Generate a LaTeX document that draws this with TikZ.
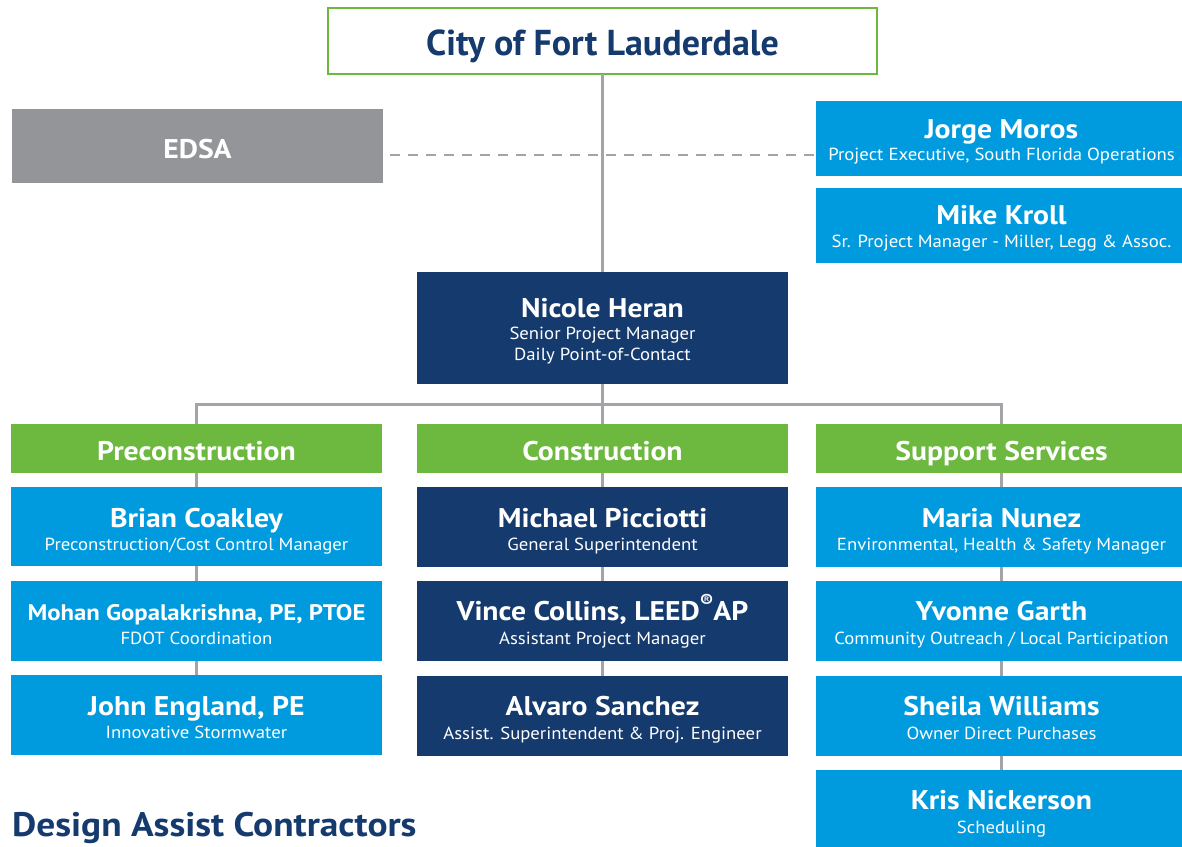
\documentclass[tikz,border=0pt]{standalone}
\usepackage{fontspec}
\setmainfont{PT Sans}
\newfontfamily\namefont{PT Sans Bold}[FakeStretch=1.1]
\newfontfamily\subfont{PT Sans}[FakeStretch=1.07]
\newfontfamily\titlefont{PT Sans Bold}
\usetikzlibrary{calc}
\definecolor{navy}{HTML}{143A6E}
\definecolor{cblue}{HTML}{009BDE}
\definecolor{cgreen}{HTML}{6DB83F}
\definecolor{cgray}{HTML}{939598}
\definecolor{lgray}{HTML}{A2A4A7}
\tikzset{
  box/.style={inner sep=0pt, outer sep=0pt, draw=none, minimum width=371pt},
  pname/.style={anchor=base, text=white, font=\namefont\fontsize{27}{30}\selectfont, inner sep=0pt},
  psub/.style={anchor=base, text=white, font=\subfont\fontsize{17.5}{20}\selectfont, inner sep=0pt},
  conn/.style={draw=lgray, line width=3pt},
  dconn/.style={draw=lgray, line width=2.5pt, dash pattern=on 10pt off 8pt},
}
\begin{document}
\begin{tikzpicture}[x=1pt,y=-1pt]
\path[use as bounding box] (0,0) rectangle (1182,846);
\clip (0,0) rectangle (1182,846);
% top
\node[box, draw=cgreen, line width=2.5pt, fill=white, minimum width=549pt, minimum height=66pt] (city) at (602.5,41) {};
\node[anchor=base, text=navy, font=\titlefont\fontsize{36}{40}\selectfont, inner sep=0pt] (citytxt) at (602.5,55) {City of Fort Lauderdale};
\node[box, fill=cgray, minimum height=74pt] (edsa) at (197.5,146) {};
\node[pname] (edsatxt) at (197.5,158) {EDSA};
\node[box, fill=cblue, minimum height=75pt] (jorge) at (1001.5,138.5) {};
\node[pname] at (1001.5,138) {Jorge Moros};
\node[psub] at (1001.5,160) {Project Executive, South Florida Operations};
\node[box, fill=cblue, minimum height=75pt] (mike) at (1001.5,225.5) {};
\node[pname] at (1001.5,224) {Mike Kroll};
\node[psub] at (1001.5,247) {Sr. Project Manager - Miller, Legg \& Assoc.};
\node[box, fill=navy, minimum height=112pt] (nicole) at (602.5,328) {};
\node[pname] at (602.5,317) {Nicole Heran};
\node[psub] at (602.5,339) {Senior Project Manager};
\node[psub] at (602.5,360) {Daily Point-of-Contact};
% headers
\node[box, fill=cgreen, minimum height=49pt] (hpre) at (196.5,448.5) {};
\node[pname] at (196.5,460) {Preconstruction};
\node[box, fill=cgreen, minimum height=49pt] (hcon) at (602.5,448.5) {};
\node[pname] at (602.5,460) {Construction};
\node[box, fill=cgreen, minimum height=49pt] (hsup) at (1001.5,448.5) {};
\node[pname] at (1001.5,460) {Support Services};
% left column
\node[box, fill=cblue, minimum height=79pt] (brian) at (196.5,526.5) {};
\node[pname] at (196.5,527) {Brian Coakley};
\node[psub] at (196.5,550) {Preconstruction/Cost Control Manager};
\node[box, fill=cblue, minimum height=80pt] (mohan) at (196.5,621) {};
\node[pname, font=\namefont\fontsize{22.5}{26}\selectfont] at (196.5,620) {Mohan Gopalakrishna, PE, PTOE};
\node[psub] at (196.5,644) {FDOT Coordination};
\node[box, fill=cblue, minimum height=80pt] (john) at (196.5,715) {};
\node[pname] at (196.5,715) {John England, PE};
\node[psub] at (196.5,738) {Innovative Stormwater};
% middle column
\node[box, fill=navy, minimum height=80pt] (michael) at (602.5,527) {};
\node[pname] at (602.5,527) {Michael Picciotti};
\node[psub] at (602.5,550) {General Superintendent};
\node[box, fill=navy, minimum height=80pt] (vince) at (602.5,621) {};
\node[pname] at (602.5,620) {Vince Collins, LEED\raisebox{0.45em}{\fontsize{18}{18}\selectfont ®}AP};
\node[psub] at (602.5,644) {Assistant Project Manager};
\node[box, fill=navy, minimum height=80pt] (alvaro) at (602.5,716) {};
\node[pname] at (602.5,715) {Alvaro Sanchez};
\node[psub] at (602.5,739) {Assist. Superintendent \& Proj. Engineer};
% right column
\node[box, fill=cblue, minimum height=80pt] (maria) at (1001.5,527) {};
\node[pname] at (1001.5,527) {Maria Nunez};
\node[psub] at (1001.5,550) {Environmental, Health \& Safety Manager};
\node[box, fill=cblue, minimum height=80pt] (yvonne) at (1001.5,621) {};
\node[pname] at (1001.5,620) {Yvonne Garth};
\node[psub] at (1001.5,644) {Community Outreach / Local Participation};
\node[box, fill=cblue, minimum height=80pt] (sheila) at (1001.5,716) {};
\node[pname] at (1001.5,715) {Sheila Williams};
\node[psub] at (1001.5,739) {Owner Direct Purchases};
\node[box, fill=cblue, minimum height=80pt] (kris) at (1001.5,810) {};
\node[pname] at (1001.5,809) {Kris Nickerson};
\node[psub] at (1001.5,833) {Scheduling};
% footer
\node[anchor=base west, text=navy, font=\namefont\fontsize{34}{38}\selectfont, inner sep=0pt] (dac) at (12,836) {Design Assist Contractors};
% connectors
\coordinate (dl) at (390,155);
\coordinate (bar) at (602.5,404);
\draw[dconn] (dl) -- (dl -| jorge.west);
\draw[conn] (city.south) -- (nicole.north);
\draw[conn] (nicole.south) -- (hcon.north);
\draw[conn] (hpre.north) -- (hpre.north |- bar) -- (hsup.north |- bar) -- (hsup.north);
\draw[conn] (hpre.south) -- (brian.north);
\draw[conn] (brian.south) -- (mohan.north);
\draw[conn] (mohan.south) -- (john.north);
\draw[conn] (hcon.south) -- (michael.north);
\draw[conn] (michael.south) -- (vince.north);
\draw[conn] (vince.south) -- (alvaro.north);
\draw[conn] (hsup.south) -- (maria.north);
\draw[conn] (maria.south) -- (yvonne.north);
\draw[conn] (yvonne.south) -- (sheila.north);
\draw[conn] (sheila.south) -- (kris.north);
\end{tikzpicture}
\end{document}
